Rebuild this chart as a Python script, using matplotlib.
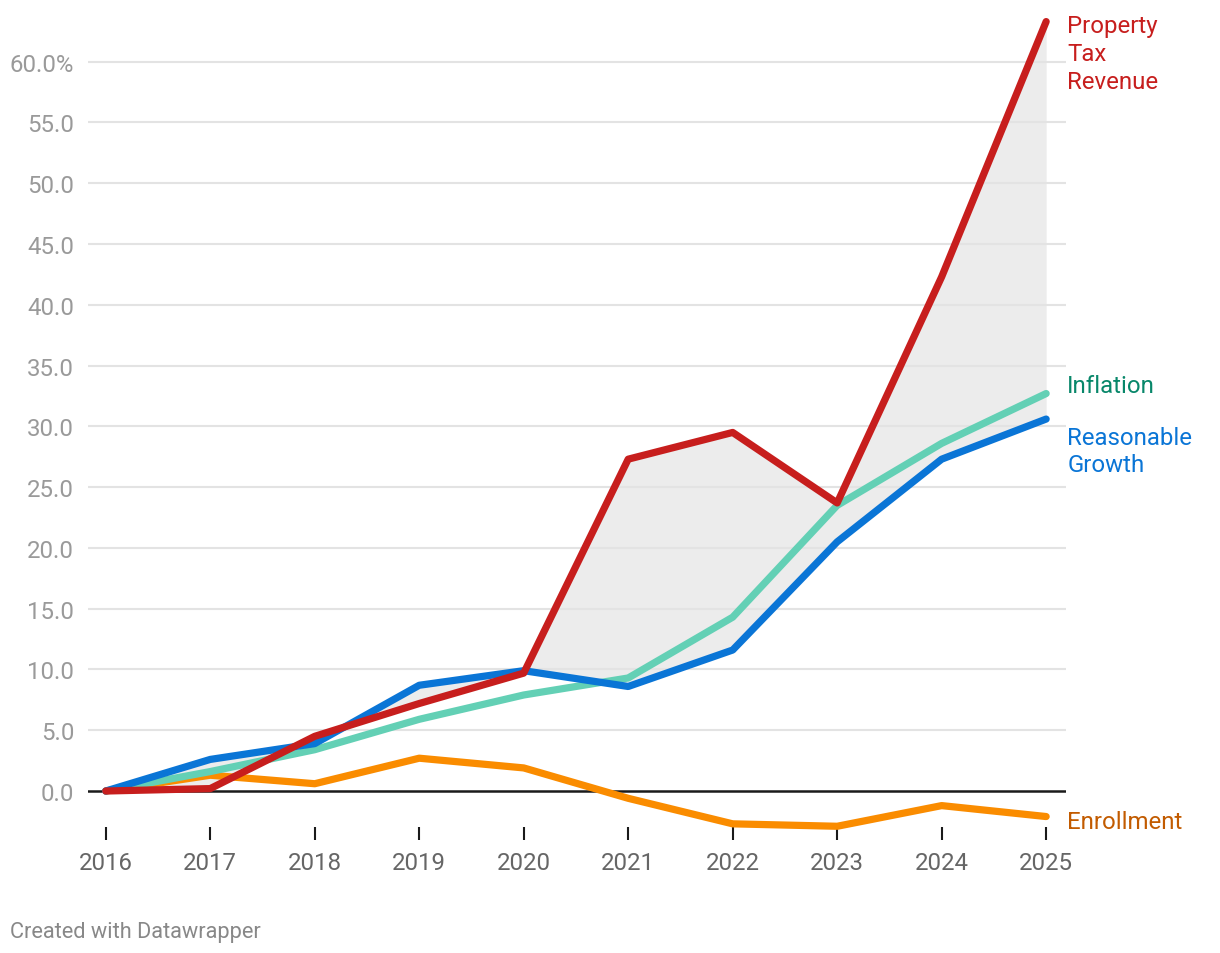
import matplotlib.pyplot as plt

years = [2016, 2017, 2018, 2019, 2020, 2021, 2022, 2023, 2024, 2025]
property_tax = [0, 0.2, 4.5, 7.2, 9.7, 27.3, 29.5, 23.7, 42.3, 63.3]
reasonable = [0, 2.6, 3.9, 8.7, 9.9, 8.6, 11.6, 20.5, 27.3, 30.6]
inflation = [0, 1.6, 3.4, 5.9, 7.9, 9.3, 14.3, 23.5, 28.6, 32.7]
enrollment = [0, 1.3, 0.6, 2.7, 1.9, -0.6, -2.7, -2.9, -1.2, -2.1]

y_ticks = [0, 5, 10, 15, 20, 25, 30, 35, 40, 45, 50, 55, 60]
y_labels = ["0.0", "5.0", "10.0", "15.0", "20.0", "25.0", "30.0", "35.0",
            "40.0", "45.0", "50.0", "55.0", "60.0%"]

plt.rcParams['font.family'] = ['Roboto', 'DejaVu Sans']

fig = plt.figure(figsize=(12.2, 9.54), dpi=100)
ax = fig.add_axes([88 / 1220, 1 - 828 / 954, (1066 - 88) / 1220, (828 - 8) / 954])

ax.set_xlim(2015.83, 2025.19)
ax.set_ylim(-2.96, 64.5)

ax.fill_between(years, property_tax, reasonable, color='#ececec', lw=0, zorder=1)
for y in y_ticks:
    if y == 0:
        ax.axhline(0, color='#1a1a1a', lw=1.8, zorder=2)
    else:
        ax.axhline(y, color='#e3e3e3', lw=1.5, zorder=1.5)

lw = 5.2
ax.plot(years, enrollment, color='#fa8c00', lw=lw, solid_capstyle='round',
        solid_joinstyle='round', zorder=3, clip_on=False)
ax.plot(years, inflation, color='#63d0b5', lw=lw, solid_capstyle='round',
        solid_joinstyle='round', zorder=4, clip_on=False)
ax.plot(years, reasonable, color='#0a75d6', lw=lw, solid_capstyle='round',
        solid_joinstyle='round', zorder=5, clip_on=False)
ax.plot(years, property_tax, color='#c71e1d', lw=lw, solid_capstyle='round',
        solid_joinstyle='round', zorder=6, clip_on=False)

labels = [
    ("Property\nTax\nRevenue", property_tax[-1], -32, '#c71e1d'),
    ("Inflation", inflation[-1], 8, '#08876a'),
    ("Reasonable\nGrowth", reasonable[-1], -32, '#0a75d6'),
    ("Enrollment", enrollment[-1], -5, '#c25b00'),
]
for txt, val, dy, col in labels:
    ax.annotate(txt, xy=(years[-1], val), xytext=(21, dy), textcoords='offset pixels',
                ha='left', va='center', color=col, fontsize=17.3, linespacing=1.27,
                annotation_clip=False)

for s in ax.spines.values():
    s.set_visible(False)

ax.set_xticks(years)
ax.set_xticklabels([str(y) for y in years])
ax.tick_params(axis='x', length=9, width=1.5, color='#1a1a1a', pad=8,
               labelsize=17.3, labelcolor='#666666')
ax.set_yticks(y_ticks)
ax.set_yticklabels(y_labels)
ax.tick_params(axis='y', length=0, pad=10, labelsize=17.3, labelcolor='#9a9a9a')

fig.text(10 / 1220, 1 - 933 / 954, "Created with Datawrapper", fontsize=15.7,
         color='#888888', ha='left', va='center')

fig.savefig('out.png', dpi=100)
